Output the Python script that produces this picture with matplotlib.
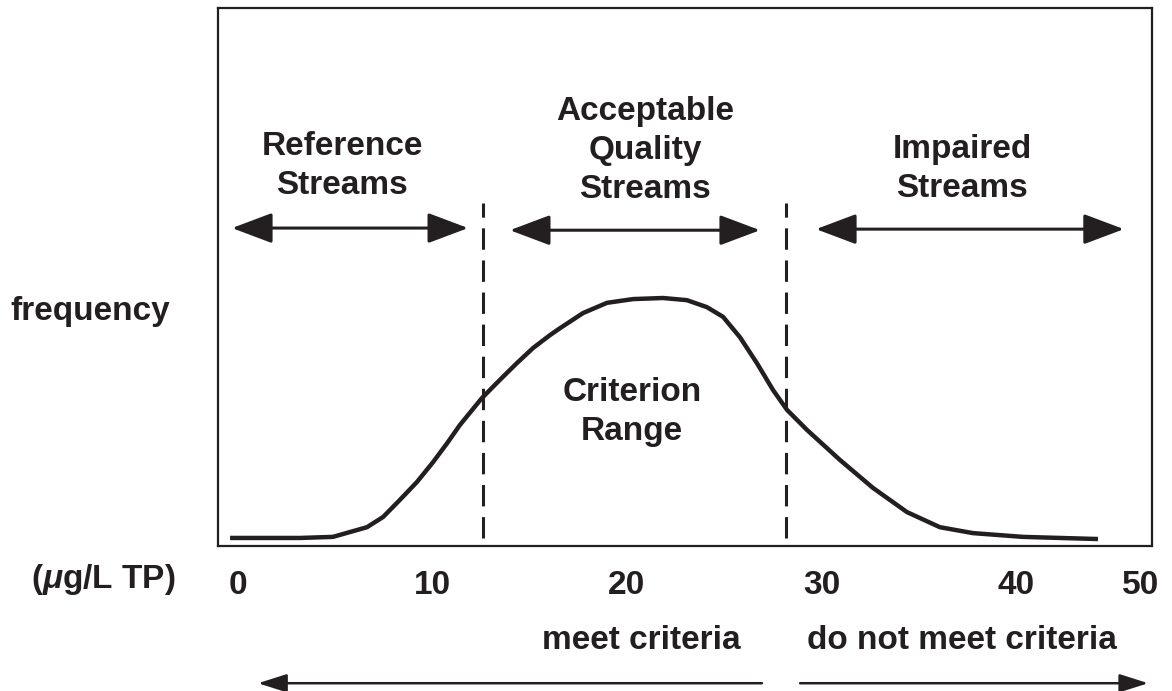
import matplotlib
matplotlib.use("Agg")
import matplotlib.pyplot as plt

plt.rcParams['font.family'] = ['Liberation Sans', 'DejaVu Sans']
plt.rcParams['font.weight'] = 'bold'
plt.rcParams['mathtext.fontset'] = 'custom'
plt.rcParams['mathtext.it'] = 'Liberation Sans:italic:bold'
plt.rcParams['mathtext.rm'] = 'Liberation Sans:bold'

ink = '#231f20'

# frequency curve (TP in ug/L, relative frequency)
tp = [-0.41, 3.19, 4.88, 6.63, 7.46, 8.33, 9.20, 10.03, 10.75, 11.41, 12.54,
      13.47, 14.34, 15.17, 16.04, 16.56, 17.74, 18.97, 20.31, 21.85, 23.08,
      24.11, 24.94, 25.81, 26.68, 27.51, 28.23, 29.25, 30.95, 32.65, 34.40,
      36.09, 37.79, 40.36, 44.22]
freq = [0.015, 0.015, 0.017, 0.035, 0.054, 0.086, 0.119, 0.156, 0.191, 0.225,
        0.275, 0.309, 0.340, 0.368, 0.392, 0.405, 0.433, 0.452, 0.459, 0.461,
        0.457, 0.444, 0.426, 0.388, 0.340, 0.290, 0.253, 0.216, 0.160, 0.108,
        0.063, 0.035, 0.024, 0.017, 0.013]

criteria = [12.6, 28.2]          # dashed boundaries of the criterion range
tick_pos = [0, 10, 20, 30, 40, 46.4]
tick_labels = ['0', '10', '20', '30', '40', '50']

fig = plt.figure(figsize=(11.72, 6.91), dpi=100)
ax = fig.add_axes([0.186, 0.2098, 0.797, 0.7786])
ax.set_xlim(-1.03, 47.0)
ax.set_ylim(0, 1)

ax.plot(tp, freq, color=ink, lw=3.2, solid_capstyle='butt', solid_joinstyle='round')
for c in criteria:
    ax.plot([c, c], [0.015, 0.638], color=ink, lw=2.2, dashes=(7, 3.5))

for s in ax.spines.values():
    s.set_linewidth(1.6)
    s.set_color(ink)
ax.set_yticks([])
ax.set_xticks(tick_pos)
ax.set_xticklabels(tick_labels, fontsize=24, color=ink)
ax.tick_params(axis='x', length=0, pad=17)

big = dict(arrowstyle='<|-|>,head_length=1.25,head_width=0.47',
           color=ink, lw=2.2, shrinkA=0, shrinkB=0, mutation_scale=20)
for x0, x1, yy in [(-0.31, 11.83, 0.591), (13.98, 26.84, 0.587), (29.72, 45.55, 0.589)]:
    ax.annotate('', xy=(x1, yy), xytext=(x0, yy), arrowprops=big)

small = dict(arrowstyle='-|>,head_length=1.1,head_width=0.35',
             color=ink, lw=1.8, shrinkA=0, shrinkB=0, mutation_scale=16)
ax.annotate('', xy=(1.03, -0.255), xytext=(26.94, -0.255), arrowprops=small,
            annotation_clip=False)
ax.annotate('', xy=(46.8, -0.255), xytext=(28.9, -0.255), arrowprops=small,
            annotation_clip=False)

kw = dict(ha='center', va='center', fontsize=24, color=ink, linespacing=1.32)
ax.text(5.35, 0.706, 'Reference\nStreams', **kw)
ax.text(20.93, 0.735, 'Acceptable\nQuality\nStreams', **kw)
ax.text(37.22, 0.701, 'Impaired\nStreams', **kw)
ax.text(20.26, 0.249, 'Criterion\nRange', **kw)
ax.text(20.72, -0.175, 'meet criteria', clip_on=False, **kw)
ax.text(37.22, -0.175, 'do not meet criteria', clip_on=False, **kw)
ax.text(-11.72, 0.435, 'frequency', ha='left', va='center', fontsize=24,
        color=ink, clip_on=False)
ax.text(-6.94, -0.063, r'($\mu$g/L TP)', ha='center', va='center', fontsize=24,
        color=ink, clip_on=False)

fig.savefig('out.png', dpi=100)
